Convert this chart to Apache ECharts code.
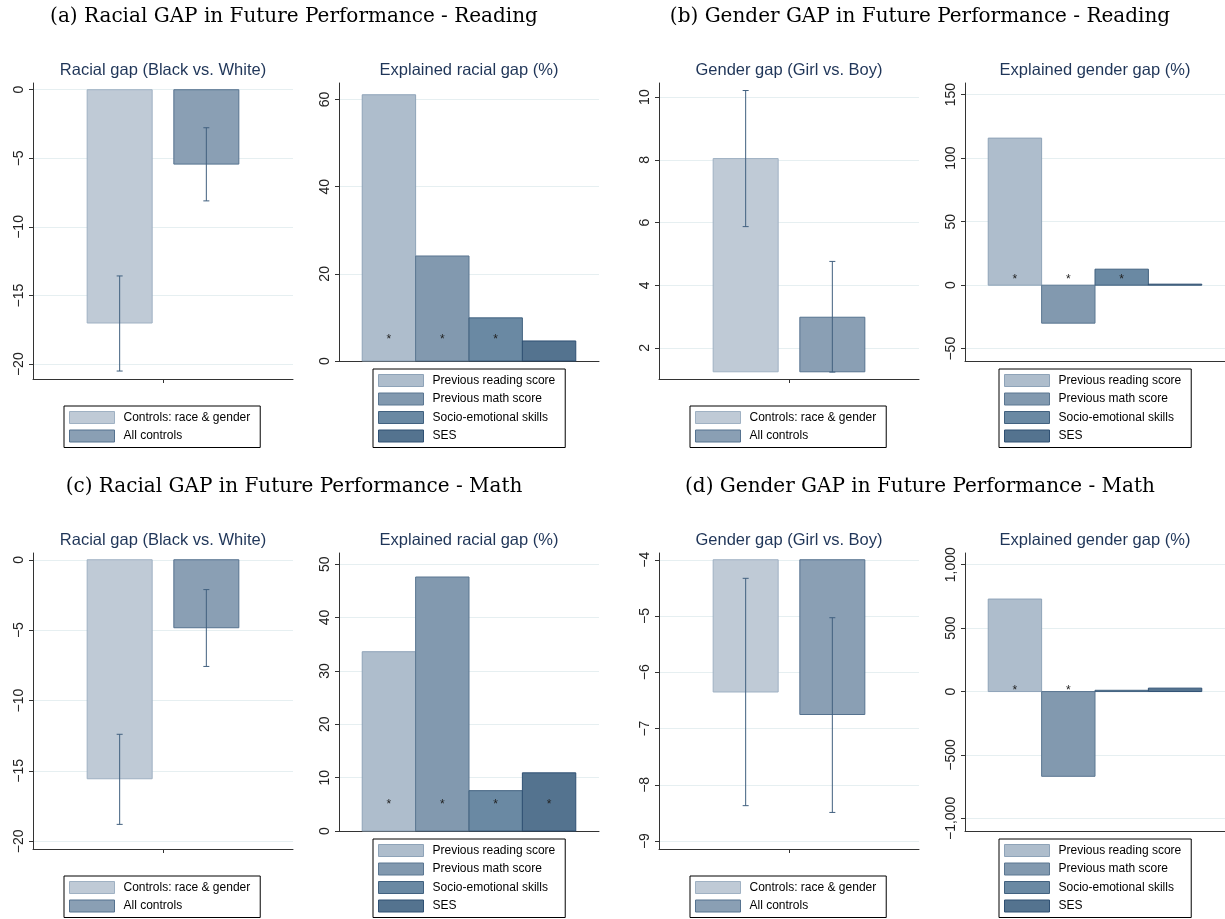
<!DOCTYPE html>
<html>
<head>
<meta charset="utf-8">
<script src="https://cdn.jsdelivr.net/npm/echarts@6/dist/echarts.min.js"></script>
<style>
  html, body { margin: 0; padding: 0; background: #ffffff; }
  #chart { width: 1225px; height: 919px; }
</style>
</head>
<body>
<div id="chart"></div>
<script>
// ---- Data ------------------------------------------------------------
const panelHeadings = [
  '(a) Racial GAP in Future Performance - Reading',
  '(b) Gender GAP in Future Performance - Reading',
  '(c) Racial GAP in Future Performance - Math',
  '(d) Gender GAP in Future Performance - Math'
];
const gapTitles = ['Racial gap (Black vs. White)', 'Gender gap (Girl vs. Boy)',
                   'Racial gap (Black vs. White)', 'Gender gap (Girl vs. Boy)'];
const explainedTitles = ['Explained racial gap (%)', 'Explained gender gap (%)',
                         'Explained racial gap (%)', 'Explained gender gap (%)'];

const specNames = ['Controls: race & gender', 'All controls'];
const factorNames = ['Previous reading score', 'Previous math score', 'Socio-emotional skills', 'SES'];

// Gap estimates per panel: [race & gender controls, all controls]
const gapEstimate = [[-17.0, -5.42], [8.04, 2.98], [-15.56, -4.83], [-6.35, -6.75]];
const gapLow      = [[-20.5, -8.1], [5.87, 1.23], [-18.8, -7.58], [-8.37, -8.49]];
const gapHigh     = [[-13.57, -2.77], [10.21, 4.76], [-12.4, -2.12], [-4.33, -5.03]];
const gapBase     = [0, 1.24, 0, -4];
const gapAxisMin  = [-21.08, 1.01, -20.55, -9.14];
const gapAxisMax  = [0.49, 10.45, 0.48, -3.88];
const gapTicks    = [[-20, -15, -10, -5, 0], [2, 4, 6, 8, 10],
                     [-20, -15, -10, -5, 0], [-9, -8, -7, -6, -5, -4]];

// Share of the gap explained by each factor (%)
const explainedShare = [[61.1, 24.1, 9.9, 4.6], [115.8, -29.9, 12.6, 0.8],
                        [33.6, 47.6, 7.56, 10.9], [729, -668, 10, 27]];
const significant = [[1, 1, 1, 0], [1, 1, 1, 0], [1, 1, 1, 1], [1, 1, 0, 0]];
const starLevel = [5.6, 6.3, 5.4, 27];
const explainedAxisMin = [0, -59.7, 0, -1099];
const explainedAxisMax = [63.8, 159.2, 52.1, 1092];
const explainedTicks = [[0, 20, 40, 60], [-50, 0, 50, 100, 150],
                        [0, 10, 20, 30, 40, 50], [-1000, -500, 0, 500, 1000]];

// ---- Styling ----------------------------------------------------------
const specStyle = [
  { color: '#bfcad6', borderColor: '#9fb1c3' },
  { color: '#8a9fb4', borderColor: '#55728f' }
];
const factorStyle = [
  { color: '#aebdcc', borderColor: '#8ea3b8' },
  { color: '#8299af', borderColor: '#5a7691' },
  { color: '#6a89a3', borderColor: '#41617f' },
  { color: '#54738f', borderColor: '#2f5073' }
];
const specPos = [-1, 1];
const errColor = '#41607f';
const navy = '#1f3558';
const axisColor = '#333333';
const gridColor = '#e6eff1';
const sans = '"Liberation Sans", Arial, sans-serif';

// ---- Layout -----------------------------------------------------------
const colOffset = [0, 626];
const rowOffset = [0, 470];
const gapBox = { left: 33, top: 83, width: 260, height: 296 };
const expBox = { left: 339, top: 83, width: 260, height: 278 };

const grids = [], xAxes = [], yAxes = [], series = [], legends = [], graphics = [];

// tick labels use a true minus sign and thousands separators
function tickText(v) {
  return Number(v).toLocaleString('en-US').replace('-', '\u2212');
}

function yAxisFor(gi, min, max, ticks) {
  return {
    type: 'value', gridIndex: gi, min: min, max: max,
    axisLine: { show: true, onZero: false, lineStyle: { color: axisColor, width: 1 } },
    axisTick: { show: true, length: 4, customValues: ticks, lineStyle: { color: axisColor } },
    axisLabel: {
      customValues: ticks, rotate: 90, margin: 7, fontSize: 14, color: '#222',
      fontFamily: sans, formatter: tickText
    },
    splitLine: { show: true, lineStyle: { color: gridColor, width: 1 } }
  };
}

function barRenderer(base, half) {
  return function (params, api) {
    const x = api.value(0), v = api.value(1);
    const a = api.coord([x - half, v]);
    const b = api.coord([x + half, base]);
    const st = api.style();
    return {
      type: 'rect',
      shape: { x: a[0], y: Math.min(a[1], b[1]), width: b[0] - a[0], height: Math.abs(b[1] - a[1]) },
      style: { fill: st.fill, stroke: st.stroke, lineWidth: 1 }
    };
  };
}

function errorRenderer(params, api) {
  const x = api.value(0);
  const lo = api.coord([x, api.value(1)]);
  const hi = api.coord([x, api.value(2)]);
  const cap = 3;
  const ls = { stroke: errColor, lineWidth: 1 };
  return {
    type: 'group',
    children: [
      { type: 'line', shape: { x1: lo[0], y1: lo[1], x2: hi[0], y2: hi[1] }, style: ls },
      { type: 'line', shape: { x1: lo[0] - cap, y1: lo[1], x2: lo[0] + cap, y2: lo[1] }, style: ls },
      { type: 'line', shape: { x1: hi[0] - cap, y1: hi[1], x2: hi[0] + cap, y2: hi[1] }, style: ls }
    ]
  };
}

function starRenderer(params, api) {
  const p = api.coord([api.value(0), api.value(1)]);
  return {
    type: 'text', x: p[0], y: p[1] + 3,
    style: { text: '*', textAlign: 'center', textVerticalAlign: 'middle',
             font: '12px ' + sans, fill: '#222' }
  };
}

function legendFor(left, top, names, styles) {
  return {
    left: left, top: top, orient: 'vertical', height: 90,
    itemWidth: 45, itemHeight: 12, itemGap: 5.5, icon: 'rect',
    padding: [5, 10, 5, 5], borderColor: '#000', borderWidth: 1, backgroundColor: '#fff',
    selectedMode: false,
    textStyle: { fontSize: 12, fontFamily: sans, color: '#000', padding: [0, 0, 0, 4] },
    data: names.map((n, i) => ({
      name: n,
      itemStyle: { color: styles[i].color, borderColor: styles[i].borderColor, borderWidth: 1 }
    }))
  };
}

for (let p = 0; p < 4; p++) {
  const row = Math.floor(p / 2), col = p % 2;
  const dx = colOffset[col], dy = rowOffset[row];

  // Left plot: gap estimates with confidence intervals
  const gi = grids.length;
  const gL = gapBox.left + dx, gT = gapBox.top + dy;
  grids.push({ left: gL, top: gT, width: gapBox.width, height: gapBox.height, outerBoundsMode: 'none' });
  xAxes.push({
    type: 'value', gridIndex: gi, min: -3, max: 3,
    axisLine: { show: true, onZero: false, lineStyle: { color: axisColor, width: 1 } },
    axisTick: { show: true, length: 4, customValues: [0], lineStyle: { color: axisColor } },
    axisLabel: { show: false }, splitLine: { show: false }
  });
  yAxes.push(yAxisFor(gi, gapAxisMin[p], gapAxisMax[p], gapTicks[p]));
  specNames.forEach((name, s) => {
    series.push({
      type: 'custom', name: name, xAxisIndex: gi, yAxisIndex: gi, z: 2,
      itemStyle: { color: specStyle[s].color, borderColor: specStyle[s].borderColor, borderWidth: 1 },
      renderItem: barRenderer(gapBase[p], 0.75),
      data: [[specPos[s], gapEstimate[p][s]]]
    });
  });
  series.push({
    type: 'custom', name: 'ci', xAxisIndex: gi, yAxisIndex: gi, z: 5, silent: true,
    renderItem: errorRenderer,
    data: specPos.map((x, s) => [x, gapLow[p][s], gapHigh[p][s]])
  });
  legends.push(legendFor(gL + 31, 406 + dy, specNames, specStyle));
  graphics.push({
    type: 'text', x: gL + gapBox.width / 2, y: gT - 12.5,
    style: { text: gapTitles[p], textAlign: 'center', textVerticalAlign: 'middle',
             font: '16.5px ' + sans, fill: navy }
  });

  // Right plot: explained share by factor
  const ei = grids.length;
  const eL = expBox.left + dx, eT = expBox.top + dy;
  grids.push({ left: eL, top: eT, width: expBox.width, height: expBox.height, outerBoundsMode: 'none' });
  xAxes.push({
    type: 'value', gridIndex: ei, min: -0.935, max: 3.935,
    axisLine: { show: true, onZero: false, lineStyle: { color: axisColor, width: 1 } },
    axisTick: { show: false }, axisLabel: { show: false }, splitLine: { show: false }
  });
  yAxes.push(yAxisFor(ei, explainedAxisMin[p], explainedAxisMax[p], explainedTicks[p]));
  factorNames.forEach((name, f) => {
    series.push({
      type: 'custom', name: name, xAxisIndex: ei, yAxisIndex: ei, z: 2,
      itemStyle: { color: factorStyle[f].color, borderColor: factorStyle[f].borderColor, borderWidth: 1 },
      renderItem: barRenderer(0, 0.5),
      data: [[f, explainedShare[p][f]]]
    });
  });
  series.push({
    type: 'custom', name: 'stars', xAxisIndex: ei, yAxisIndex: ei, z: 6, silent: true,
    renderItem: starRenderer,
    data: significant[p].map((sig, f) => sig ? [f, starLevel[p]] : null).filter(d => d)
  });
  legends.push(legendFor(eL + 34, 369 + dy, factorNames, factorStyle));
  graphics.push({
    type: 'text', x: eL + expBox.width / 2, y: eT - 12.5,
    style: { text: explainedTitles[p], textAlign: 'center', textVerticalAlign: 'middle',
             font: '16.5px ' + sans, fill: navy }
  });

  // Panel heading
  graphics.push({
    type: 'text', x: 294 + dx, y: 17 + dy,
    style: { text: panelHeadings[p], textAlign: 'center', textVerticalAlign: 'middle',
             font: '20px "DejaVu Serif", serif', fill: '#000' }
  });
}

const chart = echarts.init(document.getElementById('chart'), null, { renderer: 'canvas' });
chart.setOption({
  animation: false,
  backgroundColor: '#ffffff',
  grid: grids,
  xAxis: xAxes,
  yAxis: yAxes,
  legend: legends,
  graphic: graphics,
  series: series
});
</script>
</body>
</html>
